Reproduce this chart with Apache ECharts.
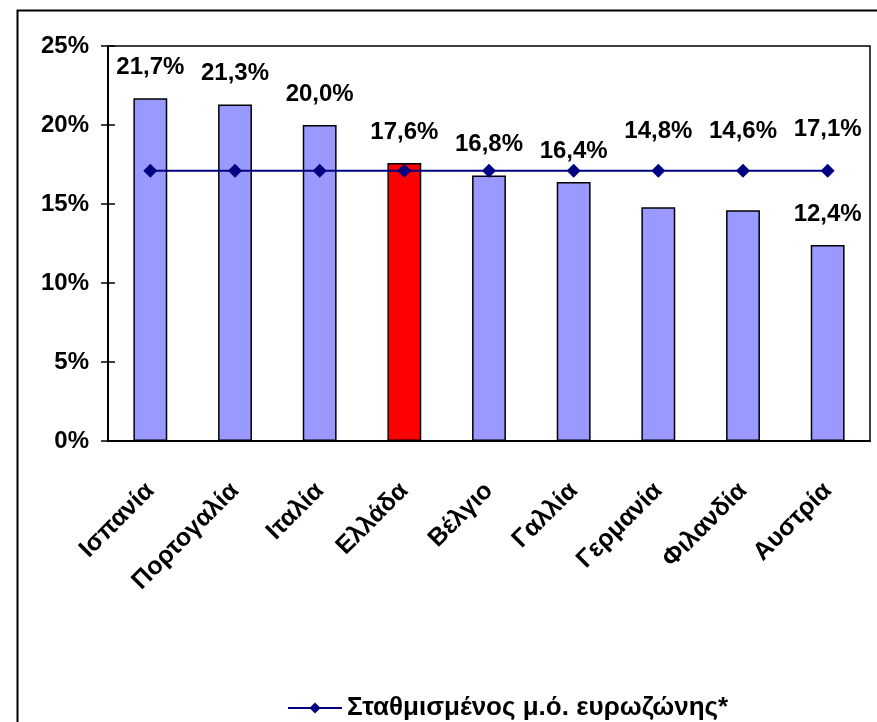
<!DOCTYPE html>
<html>
<head>
<meta charset="utf-8">
<script src="https://cdn.jsdelivr.net/npm/echarts@6/dist/echarts.min.js"></script>
<style>
  html, body { margin: 0; padding: 0; background: #fff; }
  #chart { width: 877px; height: 722px; }
</style>
</head>
<body>
<div id="chart"></div>
<script>
const countries = ['Ισπανία', 'Πορτογαλία', 'Ιταλία', 'Ελλάδα', 'Βέλγιο', 'Γαλλία', 'Γερμανία', 'Φιλανδία', 'Αυστρία'];
const shares = [21.7, 21.3, 20.0, 17.6, 16.8, 16.4, 14.8, 14.6, 12.4];
const euroAvg = [17.1, 17.1, 17.1, 17.1, 17.1, 17.1, 17.1, 17.1, 17.1];
const highlight = 'Ελλάδα';
const avgName = 'Σταθμισμένος μ.ό. ευρωζώνης*';

const font = "'Liberation Sans', Arial, sans-serif";
const fmt = (v) => v.toFixed(1).replace('.', ',') + '%';
// labels that were lifted above the average line in the original
const lifted = { 'Γερμανία': 64, 'Φιλανδία': 67 };

const chart = echarts.init(document.getElementById('chart'));
chart.setOption({
  backgroundColor: '#fff',
  animation: false,
  textStyle: { fontFamily: font },
  graphic: [
    {
      type: 'rect',
      left: 15, top: 8,
      shape: { width: 900, height: 800 },
      style: { fill: 'none', stroke: '#000', lineWidth: 2 },
      silent: true,
    },
  ],
  grid: { left: 108, top: 46, right: 7, bottom: 281, show: true, borderColor: '#000', borderWidth: 1.5 },
  legend: {
    data: [avgName],
    left: 282, top: 690,
    itemWidth: 54, itemHeight: 14, itemGap: 8,
    textStyle: { fontFamily: font, fontSize: 26, fontWeight: 'bold', color: '#000' },
  },
  xAxis: {
    type: 'category',
    data: countries,
    axisLine: { lineStyle: { color: '#000', width: 2 } },
    axisTick: { length: 10, lineStyle: { color: '#000', width: 1.5 } },
    axisLabel: {
      rotate: 45, margin: 46, interval: 0,
      fontFamily: font, fontSize: 25, fontWeight: 'bold', color: '#000',
    },
  },
  yAxis: [
    {
      type: 'value',
      min: 0, max: 25, interval: 5,
      axisLine: { show: true, lineStyle: { color: '#000', width: 2 } },
      axisTick: { show: true, length: 7, lineStyle: { color: '#000', width: 1.5 } },
      splitLine: { show: false },
      axisLabel: {
        formatter: '{value}%', margin: 19,
        fontFamily: font, fontSize: 24, fontWeight: 'bold', color: '#000',
      },
    },
    {
      type: 'value',
      position: 'left',
      min: 0, max: 25, interval: 5,
      axisLine: { show: false },
      axisTick: { show: true, inside: true, length: 7, lineStyle: { color: '#000', width: 1.5 } },
      splitLine: { show: false },
      axisLabel: { show: false },
    },
  ],
  series: [
    {
      type: 'bar',
      barWidth: '40%',
      data: shares.map((v, i) => ({
        value: v,
        itemStyle: { color: countries[i] === highlight ? '#ff0000' : '#9999ff' },
        label: { distance: lifted[countries[i]] || 19 },
      })),
      itemStyle: { borderColor: '#000', borderWidth: 1.5 },
      label: {
        show: true, position: 'top',
        formatter: (p) => fmt(p.value),
        fontFamily: font, fontSize: 24, fontWeight: 'bold', color: '#000',
      },
      z: 2,
    },
    {
      name: avgName,
      type: 'line',
      data: euroAvg.map((v, i) => (i === euroAvg.length - 1
        ? { value: v, label: { show: true } }
        : v)),
      symbol: 'diamond',
      symbolSize: 14,
      lineStyle: { color: '#000080', width: 2 },
      itemStyle: { color: '#000080' },
      label: {
        show: false, position: 'top', distance: 22,
        formatter: (p) => fmt(p.value),
        fontFamily: font, fontSize: 24, fontWeight: 'bold', color: '#000',
      },
      z: 3,
    },
  ],
});
</script>
</body>
</html>
